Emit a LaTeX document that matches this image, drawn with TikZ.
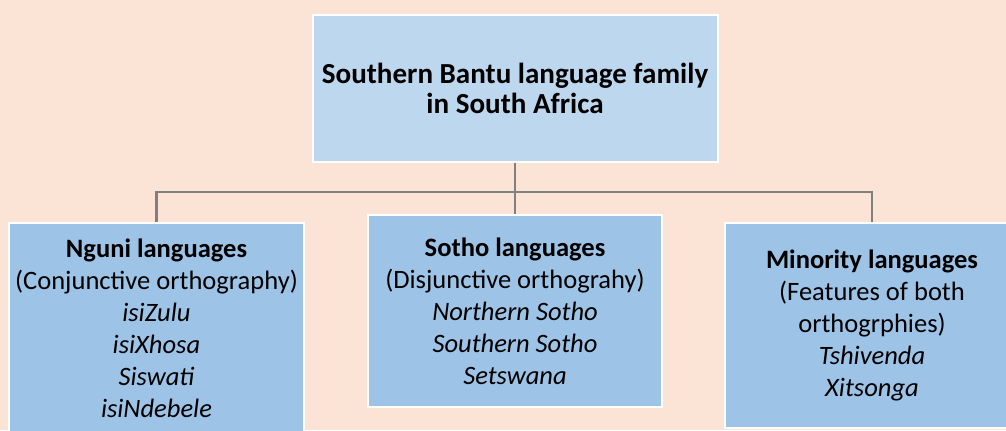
\documentclass[tikz,border=0pt]{standalone}
\usepackage{fontspec}
\setmainfont{Carlito}
\definecolor{peach}{HTML}{FBE3D6}
\definecolor{rootblue}{HTML}{BDD7EE}
\definecolor{groupblue}{HTML}{9DC3E6}
\definecolor{linkgray}{HTML}{808080}

\begin{document}
\begin{tikzpicture}[x=0.75pt,y=-0.75pt,
  rootbox/.style={draw=white,line width=1.5pt,fill=rootblue,inner sep=0pt,align=center,
    minimum width=303.75pt,minimum height=110.25pt,
    font=\fontsize{21.8}{22.5}\selectfont\bfseries},
  groupbox/.style={draw=white,line width=1.5pt,fill=groupblue,inner sep=0pt,align=center,
    minimum width=221pt,font=\fontsize{19.9}{24}\selectfont},
  link/.style={draw=linkgray,line width=1.6pt}]
\clip (0,0) rectangle (1006,430);
\fill[peach] (0,0) rectangle (1006,430);
\node[rootbox] (root) at (515,88.5) {Southern Bantu language family\\in South Africa};
\node[groupbox,minimum height=157.5pt] (nguni) at (156.5,328) {\textbf{Nguni languages}\\(Conjunctive orthography)\\\textit{isiZulu}\\\textit{isiXhosa}\\\textit{Siswati}\\\textit{isiNdebele}};
\node[groupbox,minimum height=144pt] (sotho) at (515,311) {\textbf{Sotho languages}\\(Disjunctive orthograhy)\\\textit{Northern Sotho}\\\textit{Southern Sotho}\\\textit{Setswana}};
\node[groupbox,minimum height=153.75pt] (minor) at (872,325.5) {\textbf{Minority languages}\\(Features of both\\orthogrphies)\\\textit{Tshivenda}\\\textit{Xitsonga}};
\coordinate (fork) at (515,192);
\draw[link] (root.south) -- (fork);
\draw[link] (fork) -| (nguni.north);
\draw[link] (fork) -| (sotho.north);
\draw[link] (fork) -| (minor.north);
\end{tikzpicture}
\end{document}
